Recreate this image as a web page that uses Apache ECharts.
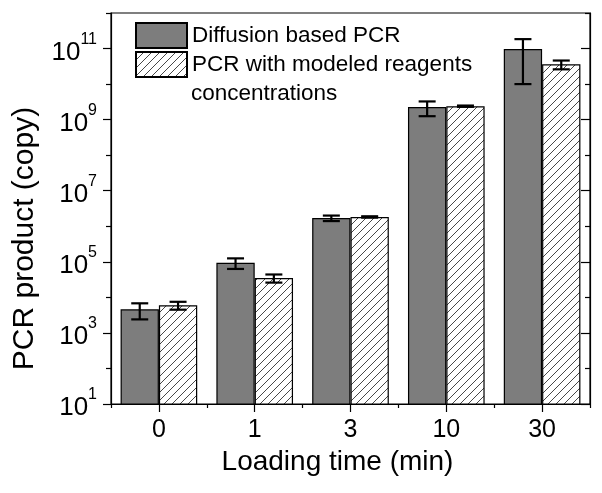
<!DOCTYPE html>
<html>
<head>
<meta charset="utf-8">
<script src="https://cdn.jsdelivr.net/npm/echarts@6/dist/echarts.min.js"></script>
<style>
html,body{margin:0;padding:0;background:#fff;}
#chart{width:602px;height:493px;}
</style>
</head>
<body>
<div id="chart"></div>
<script>
// ---- data ----
var categories = ['0', '1', '3', '10', '30'];
var diffusionMean = [4.6e3, 9.4e4, 1.7e6, 2.25e9, 9.7e10];
var diffusionErr  = [2.2e3, 3.1e4, 0.3e6, 1.0e9, 8.7e10];
var modeledMean   = [6.0e3, 3.5e4, 1.83e6, 2.39e9, 3.6e10];
var modeledErr    = [1.5e3, 0.9e4, 0.08e6, 0.1e9, 1.0e10];
var majorTicks = [1e1, 1e3, 1e5, 1e7, 1e9, 1e11];
var minorTicks = [1e2, 1e4, 1e6, 1e8, 1e10, 1e12];
var seriesNames = ['Diffusion based PCR', 'PCR with modeled reagents'];
var legendContinuation = 'concentrations';

var FONT = '"Liberation Sans", Arial, Helvetica, sans-serif';

// hatch pattern
var pc = document.createElement('canvas');
pc.width = 8; pc.height = 8;
var g = pc.getContext('2d');
g.fillStyle = '#fff'; g.fillRect(0, 0, 8, 8);
g.strokeStyle = '#333'; g.lineWidth = 0.9;
g.beginPath();
g.moveTo(0, 8); g.lineTo(8, 0);
g.moveTo(-1, 1); g.lineTo(1, -1);
g.moveTo(7, 9); g.lineTo(9, 7);
g.stroke();
var hatch = { image: pc, repeat: 'repeat' };

function errData(mean, err) {
  return mean.map(function (m, i) { return [i, m - err[i], m + err[i]]; });
}

function errRender(sign) {
  return function (params, api) {
    var ci = api.value(0);
    var lo = api.value(1), hi = api.value(2);
    var p0 = api.coord([0, lo]);
    var p1 = api.coord([1, lo]);
    var band = p1[0] - p0[0];
    var a = api.coord([ci, lo]);
    var b = api.coord([ci, hi]);
    var x = a[0] + sign * band * 0.2;
    var hw = 8.5;
    var st = { stroke: '#000', lineWidth: 2.2 };
    return {
      type: 'group',
      children: [
        { type: 'line', shape: { x1: x, y1: a[1], x2: x, y2: b[1] }, style: st },
        { type: 'line', shape: { x1: x - hw, y1: a[1], x2: x + hw, y2: a[1] }, style: st },
        { type: 'line', shape: { x1: x - hw, y1: b[1], x2: x + hw, y2: b[1] }, style: st }
      ]
    };
  };
}

function logAxis(pos, ticks, len, inside, showLine, label) {
  var ax = {
    type: 'log', logBase: 10, min: 10, max: 1e12, position: pos,
    axisLine: { show: showLine, lineStyle: { color: '#000', width: 1.2 } },
    axisTick: { show: true, inside: inside, length: len, customValues: ticks,
                lineStyle: { color: '#000', width: 1.2 } },
    splitLine: { show: false },
    axisLabel: { show: false }
  };
  if (label) {
    ax.axisLabel = {
      show: true, customValues: ticks, margin: 14,
      formatter: function (v) {
        var e = Math.round(Math.log10(v));
        return '{b|10}{s|' + e + '}';
      },
      rich: {
        b: { fontSize: 26, fontFamily: FONT, color: '#000', lineHeight: 34, verticalAlign: 'bottom' },
        s: { fontSize: 16, fontFamily: FONT, color: '#000', lineHeight: 18, verticalAlign: 'top' }
      }
    };
  }
  return ax;
}

var chart = echarts.init(document.getElementById('chart'), null, { renderer: 'canvas' });
chart.setOption({
  animation: false,
  backgroundColor: '#fff',
  textStyle: { fontFamily: FONT },
  grid: { left: 111, right: 12, top: 13, bottom: 89, show: true, borderColor: '#000', borderWidth: 1.2,
          containLabel: false, outerBoundsMode: 'none' },
  legend: {
    left: 135, top: 22, orient: 'vertical', padding: 0, itemGap: 2,
    itemWidth: 51, itemHeight: 25, icon: 'rect',
    textStyle: { fontSize: 22.5, fontFamily: FONT, color: '#000', lineHeight: 27 },
    data: [{ name: seriesNames[0] }, { name: seriesNames[1] }]
  },
  graphic: [
    {
      type: 'text', left: 191, top: 94 - 13.5, silent: true,
      style: { text: legendContinuation, fontSize: 22.5, fontFamily: FONT, fill: '#000', lineHeight: 27 }
    }
  ],
  xAxis: [
    {
      type: 'category', data: categories, position: 'bottom',
      axisLine: { show: true, lineStyle: { color: '#000', width: 1.2 } },
      axisTick: { show: true, alignWithLabel: true, length: 8, lineStyle: { color: '#000', width: 1.2 } },
      axisLabel: { fontSize: 25, color: '#000', fontFamily: FONT, margin: 14 },
      name: 'Loading time (min)', nameLocation: 'middle', nameGap: 41,
      nameTextStyle: { fontSize: 28, color: '#000', fontFamily: FONT, padding: [0, 26, 0, 0] }
    },
    {
      type: 'category', data: categories, position: 'bottom',
      axisLine: { show: false },
      axisTick: { show: true, length: 4, lineStyle: { color: '#000', width: 1.2 } },
      axisLabel: { show: false }
    }
  ],
  yAxis: [
    (function () {
      var a = logAxis('left', majorTicks, 8, false, true, true);
      a.name = 'PCR product (copy)';
      a.nameLocation = 'middle';
      a.nameGap = 71;
      a.nameMoveOverlap = false;
      a.nameTextStyle = { fontSize: 30, color: '#000', fontFamily: FONT, padding: [0, 60, 0, 0] };
      return a;
    })(),
    logAxis('left', minorTicks, 5, false, false, false),
    logAxis('right', majorTicks, 9, true, true, false),
    logAxis('right', minorTicks, 5, true, false, false)
  ],
  series: [
    {
      name: seriesNames[0], type: 'bar', data: diffusionMean, barWidth: '40%', barGap: '0%',
      itemStyle: { color: '#7d7d7d', borderColor: '#000', borderWidth: 1.2 }
    },
    {
      name: seriesNames[1], type: 'bar', data: modeledMean, barWidth: '40%', barGap: '0%',
      itemStyle: { color: hatch, borderColor: '#000', borderWidth: 1.2 }
    },
    {
      name: 'errA', type: 'custom', data: errData(diffusionMean, diffusionErr),
      encode: { x: 0, y: [1, 2] }, renderItem: errRender(-1), z: 10, silent: true
    },
    {
      name: 'errB', type: 'custom', data: errData(modeledMean, modeledErr),
      encode: { x: 0, y: [1, 2] }, renderItem: errRender(1), z: 10, silent: true
    }
  ]
});
</script>
</body>
</html>
